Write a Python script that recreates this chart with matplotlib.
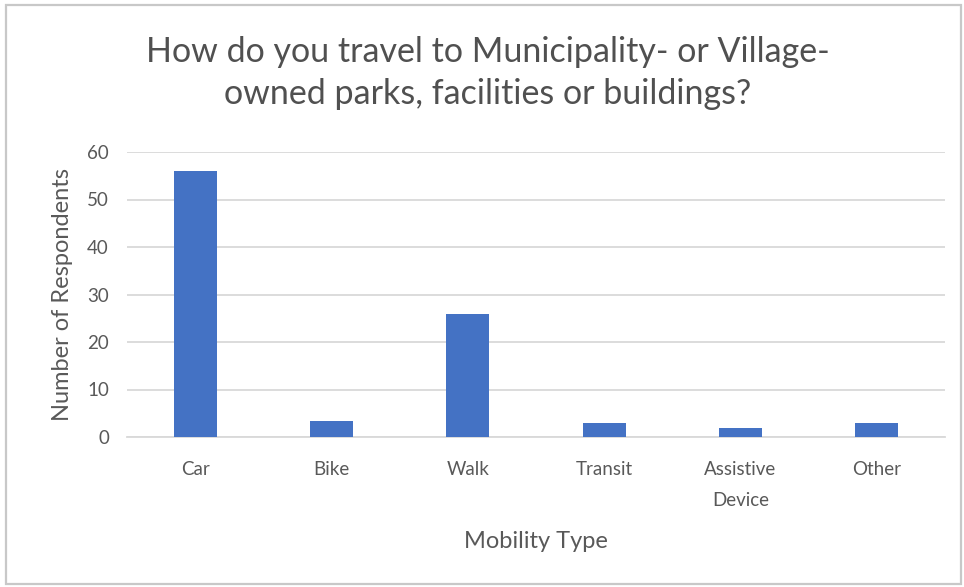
import matplotlib
matplotlib.use("Agg")
import matplotlib.pyplot as plt
from matplotlib.patches import Rectangle

categories = ["Car", "Bike", "Walk", "Transit", "Assistive\nDevice", "Other"]
respondents = [56, 3.4, 26, 3, 2, 3]
y_ticks = [0, 10, 20, 30, 40, 50, 60]

title = "How do you travel to Municipality- or Village-\nowned parks, facilities or buildings?"
x_label = "Mobility Type"
y_label = "Number of Respondents"

plt.rcParams["font.family"] = ["Lato", "DejaVu Sans"]
text_grey = "#595959"
bar_blue = "#4472C4"

fig = plt.figure(figsize=(9.64, 5.87), dpi=100)
W, H = 964, 587

# chart frame
fig.patches.append(Rectangle((6 / W, 3 / H), 955 / W, 579 / H, transform=fig.transFigure,
                             fill=False, edgecolor="#c8c8c8", linewidth=1.6))

ax = fig.add_axes([127 / W, 1 - 437 / H, (945 - 127) / W, (437 - 152) / H])
x = list(range(len(categories)))
ax.bar(x, respondents, width=0.315, color=bar_blue, zorder=3)

ax.set_xlim(-0.5, len(categories) - 0.5)
ax.set_ylim(0, 60)
ax.set_yticks(y_ticks)
ax.set_yticklabels([str(v) for v in y_ticks])
ax.set_xticks(x)
ax.set_xticklabels(categories, linespacing=2.0)
ax.tick_params(axis="both", length=0, colors=text_grey, labelsize=13.5)
ax.tick_params(axis="x", pad=17)
ax.tick_params(axis="y", pad=13)
ax.grid(axis="y", color="#d9d9d9", linewidth=1.3, zorder=0)
for side in ["top", "right", "left"]:
    ax.spines[side].set_visible(False)
ax.spines["bottom"].set_color("#d9d9d9")
ax.spines["bottom"].set_linewidth(1.3)

ax.set_xlabel(x_label, color=text_grey, fontsize=17, labelpad=16)
ax.set_ylabel(y_label, color=text_grey, fontsize=17, labelpad=10)

fig.text(488 / W, 1 - 73 / H, title, ha="center", va="center", fontsize=24.5,
         color="#505050", linespacing=1.4)

fig.savefig("out.png", dpi=100, facecolor="white")
